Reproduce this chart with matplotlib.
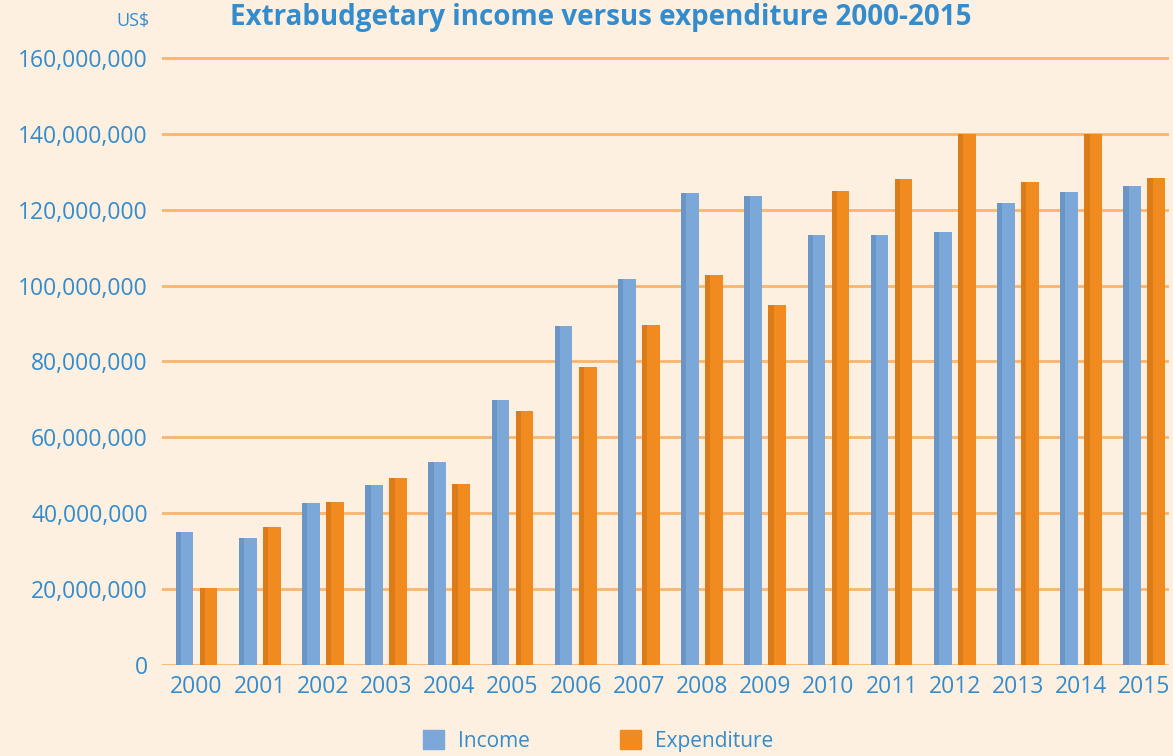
import matplotlib
matplotlib.use("Agg")
import matplotlib.pyplot as plt
import numpy as np
from matplotlib.patches import Patch

years = ["2000", "2001", "2002", "2003", "2004", "2005", "2006", "2007",
         "2008", "2009", "2010", "2011", "2012", "2013", "2014", "2015"]
income = [35.0e6, 33.5e6, 42.7e6, 47.4e6, 53.5e6, 69.8e6, 89.3e6, 101.7e6,
          124.4e6, 123.6e6, 113.3e6, 113.3e6, 114.1e6, 121.8e6, 124.7e6, 126.2e6]
expenditure = [20.3e6, 36.4e6, 43.0e6, 49.3e6, 47.7e6, 67.0e6, 78.5e6, 89.6e6,
               102.8e6, 94.9e6, 124.9e6, 128.1e6, 140.0e6, 127.3e6, 140.0e6, 128.4e6]
yticks = [0, 20e6, 40e6, 60e6, 80e6, 100e6, 120e6, 140e6, 160e6]
ytick_labels = ["0", "20,000,000", "40,000,000", "60,000,000", "80,000,000",
                "100,000,000", "120,000,000", "140,000,000", "160,000,000"]

BG = "#FDF0E1"
GRID = "#F8B56E"
TXT = "#338CCD"
C_INC = "#7BA8D8"
C_INC_D = "#5A86B8"
C_EXP = "#F28B1F"
C_EXP_D = "#C56E14"

plt.rcParams['font.family'] = ['Open Sans', 'DejaVu Sans']

fig = plt.figure(figsize=(11.73, 7.56), dpi=100, facecolor=BG)
ax = fig.add_axes([0.138, 0.1204, 0.859, 0.8079])
ax.set_facecolor(BG)

x = np.arange(len(years))
w = 0.28
off = 0.19
ax.bar(x - off, income, width=w, color=C_INC, zorder=3)
ax.bar(x + off, expenditure, width=w, color=C_EXP, zorder=3)
# darker left shading strip
ax.bar(x - off - w / 2, income, width=w * 0.3, align='edge', color=C_INC_D, alpha=0.5, zorder=4, linewidth=0)
ax.bar(x + off - w / 2, expenditure, width=w * 0.3, align='edge', color=C_EXP_D, alpha=0.5, zorder=4, linewidth=0)

ax.set_xlim(-0.55, 15.4)
ax.set_ylim(0, 161e6)
ax.set_yticks(yticks)
ax.set_yticklabels(ytick_labels)
ax.set_xticks(x)
ax.set_xticklabels(years)
ax.tick_params(axis='both', length=0, labelsize=16.5, labelcolor=TXT)
ax.tick_params(axis='y', pad=10)
ax.tick_params(axis='x', pad=7)
ax.grid(axis='y', color=GRID, linewidth=2, zorder=1)
ax.set_axisbelow(True)
for s in ax.spines.values():
    s.set_visible(False)

fig.text(150 / 1173, 1 - 21 / 756, "US$", color=TXT, fontsize=13, ha='right', va='center')
fig.text(0.512, 1 - 25 / 756, "Extrabudgetary income versus expenditure 2000-2015",
         color=TXT, fontsize=20, fontweight='bold', ha='center', va='baseline')

handles = [Patch(color=C_INC, label="Income"), Patch(color=C_EXP, label="Expenditure")]
fig.legend(handles=handles, loc='center', bbox_to_anchor=(0.51, 1 - 741 / 756), ncol=2,
           frameon=False, fontsize=15, labelcolor=TXT, handlelength=1.0, handleheight=1.0,
           columnspacing=4.3, handletextpad=0.7)

fig.savefig("out.png", dpi=100, facecolor=BG)
